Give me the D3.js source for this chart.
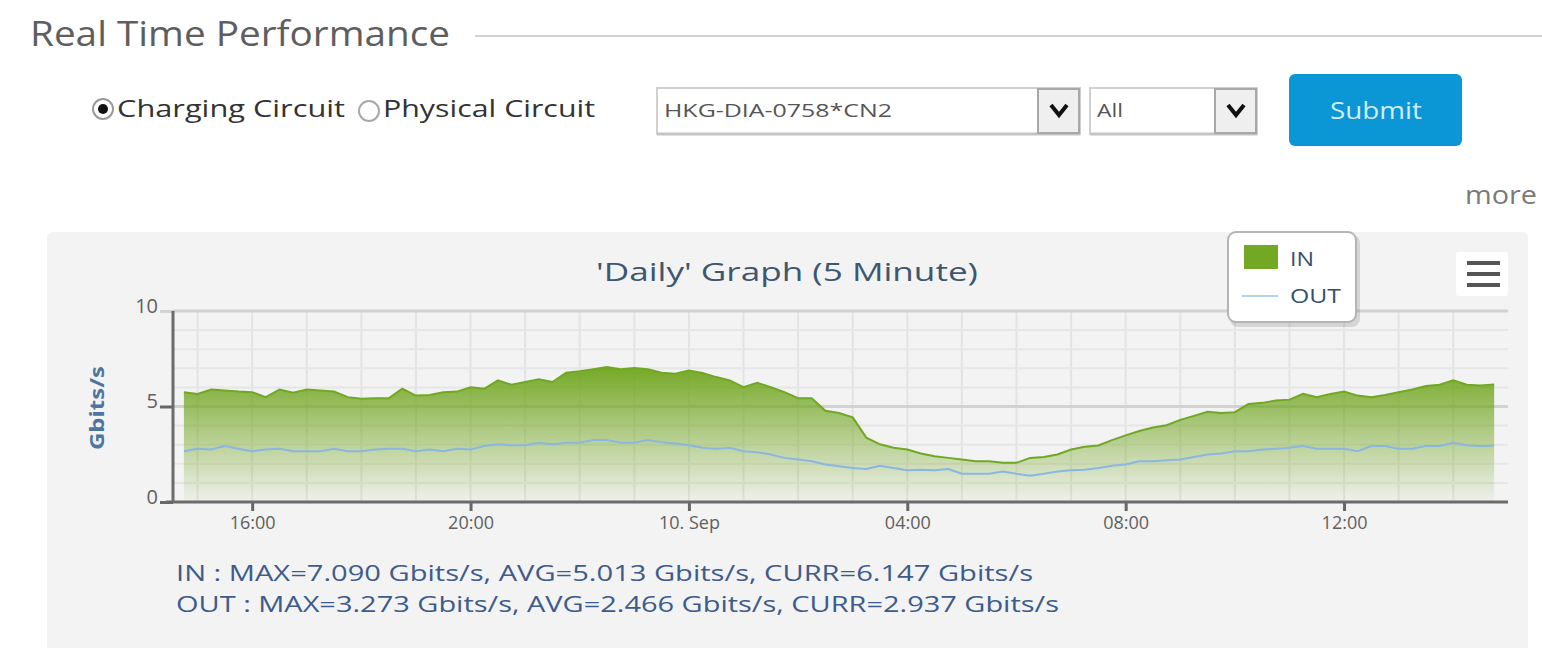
<!DOCTYPE html>
<html>
<head>
<meta charset="utf-8">
<script src="https://cdn.jsdelivr.net/npm/d3@7"></script>
<style>
  body { margin: 0; background: #fff; }
  svg text { font-family: "Liberation Sans Narrow", "Open Sans", "Liberation Sans", sans-serif; }
</style>
</head>
<body>
<div id="chart"></div>
<script>
const WIDTH = 1542;
const HEIGHT = 648;

// 15 minute samples, 9 Sep 14:45 -> 10 Sep 14:45
const times = [
  "14:45","15:00","15:15","15:30","15:45","16:00","16:15","16:30","16:45","17:00","17:15","17:30","17:45",
  "18:00","18:15","18:30","18:45","19:00","19:15","19:30","19:45","20:00","20:15","20:30","20:45",
  "21:00","21:15","21:30","21:45","22:00","22:15","22:30","22:45","23:00","23:15","23:30","23:45",
  "00:00","00:15","00:30","00:45","01:00","01:15","01:30","01:45","02:00","02:15","02:30","02:45",
  "03:00","03:15","03:30","03:45","04:00","04:15","04:30","04:45","05:00","05:15","05:30","05:45",
  "06:00","06:15","06:30","06:45","07:00","07:15","07:30","07:45","08:00","08:15","08:30","08:45",
  "09:00","09:15","09:30","09:45","10:00","10:15","10:30","10:45","11:00","11:15","11:30","11:45",
  "12:00","12:15","12:30","12:45","13:00","13:15","13:30","13:45","14:00","14:15","14:30","14:45"
];

const inValues = [
  5.75,5.66,5.89,5.84,5.78,5.75,5.49,5.89,5.72,5.89,5.84,5.78,5.49,
  5.40,5.43,5.43,5.93,5.57,5.60,5.75,5.78,6.01,5.93,6.37,6.14,
  6.28,6.42,6.28,6.77,6.84,6.95,7.07,6.95,7.02,6.95,6.77,6.72,
  6.89,6.75,6.54,6.37,6.01,6.24,6.01,5.75,5.43,5.43,4.78,4.66,
  4.43,3.37,3.02,2.84,2.75,2.54,2.40,2.31,2.22,2.13,2.13,2.05,
  2.05,2.31,2.36,2.49,2.75,2.89,2.96,3.24,3.49,3.72,3.90,4.02,
  4.30,4.51,4.72,4.66,4.70,5.13,5.19,5.31,5.36,5.66,5.49,5.66,
  5.78,5.57,5.49,5.60,5.75,5.89,6.07,6.14,6.37,6.14,6.10,6.15
];

const outValues = [
  2.66,2.79,2.75,2.93,2.79,2.66,2.75,2.79,2.66,2.66,2.66,2.79,2.66,
  2.66,2.75,2.79,2.79,2.66,2.75,2.66,2.79,2.75,2.93,3.02,2.97,
  2.97,3.10,3.02,3.10,3.10,3.24,3.24,3.10,3.10,3.24,3.13,3.06,
  2.97,2.84,2.79,2.84,2.66,2.61,2.49,2.31,2.22,2.13,1.96,1.87,
  1.78,1.73,1.90,1.78,1.66,1.69,1.66,1.73,1.48,1.48,1.48,1.60,
  1.48,1.38,1.48,1.60,1.66,1.69,1.78,1.90,1.96,2.13,2.13,2.19,
  2.22,2.36,2.49,2.54,2.66,2.66,2.75,2.79,2.84,2.93,2.79,2.79,
  2.79,2.66,2.93,2.93,2.79,2.79,2.93,2.93,3.10,2.97,2.93,2.94
];

const yTicks = [0, 5, 10];
const statLines = [
  "IN : MAX=7.090 Gbits/s, AVG=5.013 Gbits/s, CURR=6.147 Gbits/s",
  "OUT : MAX=3.273 Gbits/s, AVG=2.466 Gbits/s, CURR=2.937 Gbits/s"
];

// turn "HH:MM" into dates, rolling over to next day after midnight
let day = 9, prevH = -1;
const data = times.map((t, i) => {
  const [h, m] = t.split(":").map(Number);
  if (h < prevH) day += 1;
  prevH = h;
  return { date: new Date(2019, 8, day, h, m), in: inValues[i], out: outValues[i] };
});

const svg = d3.select("#chart").append("svg")
  .attr("width", WIDTH)
  .attr("height", HEIGHT);

// ---------- page header ----------
svg.append("text")
  .attr("x", 30).attr("y", 46)
  .attr("font-size", 34).attr("fill", "#5e5e5e")
  .attr("textLength", 420).attr("lengthAdjust", "spacingAndGlyphs")
  .text("Real Time Performance");
svg.append("line")
  .attr("x1", 475).attr("x2", WIDTH).attr("y1", 36).attr("y2", 36)
  .attr("stroke", "#d2d2d2").attr("stroke-width", 2);

// radios
svg.append("circle").attr("cx", 103).attr("cy", 109).attr("r", 10)
  .attr("fill", "#fff").attr("stroke", "#9a9a9a").attr("stroke-width", 2);
svg.append("circle").attr("cx", 103).attr("cy", 109).attr("r", 5).attr("fill", "#111");
svg.append("text").attr("x", 117).attr("y", 117)
  .attr("font-size", 24).attr("fill", "#333")
  .attr("textLength", 228).attr("lengthAdjust", "spacingAndGlyphs")
  .text("Charging Circuit");
svg.append("circle").attr("cx", 369).attr("cy", 111).attr("r", 10)
  .attr("fill", "#fff").attr("stroke", "#a8a8a8").attr("stroke-width", 2);
svg.append("text").attr("x", 383).attr("y", 117)
  .attr("font-size", 24).attr("fill", "#333")
  .attr("textLength", 212).attr("lengthAdjust", "spacingAndGlyphs")
  .text("Physical Circuit");

// selects
function selectBox(x, w, label, tl) {
  svg.append("rect").attr("x", x).attr("y", 88).attr("width", w).attr("height", 46)
    .attr("fill", "#fff").attr("stroke", "#d0d0d0").attr("stroke-width", 2);
  svg.append("line").attr("x1", x).attr("x2", x + w).attr("y1", 134).attr("y2", 134)
    .attr("stroke", "#c4c4c4").attr("stroke-width", 3);
  svg.append("rect").attr("x", x + w - 42).attr("y", 89).attr("width", 41).attr("height", 44)
    .attr("fill", "#efefef").attr("stroke", "#a8a8a8").attr("stroke-width", 2);
  const cx = x + w - 21;
  svg.append("path")
    .attr("d", `M${cx - 8},${105} L${cx},${115} L${cx + 8},${105}`)
    .attr("fill", "none").attr("stroke", "#111").attr("stroke-width", 4);
  const t = svg.append("text").attr("x", x + 7).attr("y", 117)
    .attr("font-size", 19).attr("fill", "#555").text(label);
  if (tl) t.attr("textLength", tl).attr("lengthAdjust", "spacingAndGlyphs");
}
selectBox(657, 423, "HKG-DIA-0758*CN2", 228);
selectBox(1090, 167, "All", 26);

// submit
svg.append("rect").attr("x", 1289).attr("y", 74).attr("width", 173).attr("height", 72)
  .attr("rx", 6).attr("fill", "#0b96d6");
svg.append("text").attr("x", 1376).attr("y", 119)
  .attr("text-anchor", "middle").attr("font-size", 24).attr("fill", "#d3ecf8")
  .attr("textLength", 92).attr("lengthAdjust", "spacingAndGlyphs")
  .text("Submit");

svg.append("text").attr("x", 1537).attr("y", 204)
  .attr("text-anchor", "end").attr("font-size", 25).attr("fill", "#7a7a7a")
  .attr("textLength", 72).attr("lengthAdjust", "spacingAndGlyphs")
  .text("more");

// ---------- chart panel ----------
svg.append("rect").attr("x", 47).attr("y", 232).attr("width", 1481).attr("height", 440)
  .attr("rx", 6).attr("fill", "#f3f3f3");

const x = d3.scaleTime()
  .domain([new Date(2019, 8, 9, 14, 33), new Date(2019, 8, 10, 14, 58)])
  .range([173, 1506]);
const y = d3.scaleLinear().domain([0, 10]).range([502, 311]);

const plot = svg.append("g");

// grid
plot.selectAll(".vgrid")
  .data(x.ticks(d3.timeHour.every(1)))
  .enter().append("line")
  .attr("x1", d => x(d)).attr("x2", d => x(d))
  .attr("y1", y(10)).attr("y2", y(0))
  .attr("stroke", "#e3e3e3").attr("stroke-width", 2);
plot.selectAll(".hgrid")
  .data(y.ticks(10).filter(v => v % 5 !== 0))
  .enter().append("line")
  .attr("x1", 173).attr("x2", 1508)
  .attr("y1", d => y(d)).attr("y2", d => y(d))
  .attr("stroke", "#e6e6e6").attr("stroke-width", 2);
plot.selectAll(".hmajor")
  .data(yTicks.filter(v => v > 0))
  .enter().append("line")
  .attr("x1", 173).attr("x2", 1508)
  .attr("y1", d => y(d)).attr("y2", d => y(d))
  .attr("stroke", "#d2d2d2").attr("stroke-width", 3);

// area gradient
const defs = svg.append("defs");
const grad = defs.append("linearGradient").attr("id", "inGrad")
  .attr("x1", 0).attr("y1", 0).attr("x2", 0).attr("y2", 1);
grad.append("stop").attr("offset", "0%").attr("stop-color", "#6fa51c").attr("stop-opacity", 0.95);
grad.append("stop").attr("offset", "100%").attr("stop-color", "#6fa51c").attr("stop-opacity", 0.03);

const area = d3.area()
  .x(d => x(d.date)).y0(y(0)).y1(d => y(d.in));
plot.append("path").datum(data)
  .attr("d", area).attr("fill", "url(#inGrad)");
plot.append("path").datum(data)
  .attr("d", d3.line().x(d => x(d.date)).y(d => y(d.in)))
  .attr("fill", "none").attr("stroke", "#71a823").attr("stroke-width", 2);
plot.append("path").datum(data)
  .attr("d", d3.line().x(d => x(d.date)).y(d => y(d.out)))
  .attr("fill", "none").attr("stroke", "#8ab6e4").attr("stroke-width", 2);

// axes
const xAxis = d3.axisBottom(x)
  .ticks(d3.timeHour.every(4))
  .tickSize(9)
  .tickFormat(d => d.getHours() === 0 ? d3.timeFormat("%d. %b")(d) : d3.timeFormat("%H:%M")(d));
const gx = svg.append("g").attr("transform", `translate(0,${y(0)})`).call(xAxis);
gx.select(".domain").remove();
gx.selectAll(".tick line").attr("stroke", "#666").attr("stroke-width", 3);
gx.selectAll(".tick text").attr("fill", "#606060").attr("font-size", 18).attr("dy", "0.85em");
svg.append("line").attr("x1", 166).attr("x2", 1508).attr("y1", y(0)).attr("y2", y(0))
  .attr("stroke", "#6b6b6b").attr("stroke-width", 3);

const yAxis = d3.axisLeft(y).tickValues(yTicks).tickSize(13).tickPadding(2);
const gy = svg.append("g").attr("transform", "translate(173,0)").call(yAxis);
gy.select(".domain").remove();
gy.selectAll(".tick line").attr("stroke", d => d === 10 ? "#d2d2d2" : "#666").attr("stroke-width", 3);
gy.selectAll(".tick text").attr("fill", "#606060").attr("font-size", 20).attr("dy", "0.05em");
svg.append("line").attr("x1", 173).attr("x2", 173).attr("y1", y(10)).attr("y2", y(0) + 1)
  .attr("stroke", "#6b6b6b").attr("stroke-width", 3);

svg.append("text")
  .attr("transform", "translate(104,408) rotate(-90)")
  .attr("text-anchor", "middle").attr("font-size", 20).attr("font-weight", "bold")
  .attr("fill", "#4d759e")
  .attr("textLength", 84).attr("lengthAdjust", "spacingAndGlyphs")
  .text("Gbits/s");

// title
svg.append("text").attr("x", 787).attr("y", 281)
  .attr("text-anchor", "middle").attr("font-size", 25).attr("fill", "#3e576f")
  .attr("textLength", 382).attr("lengthAdjust", "spacingAndGlyphs")
  .text("'Daily' Graph (5 Minute)");

// legend
svg.append("rect").attr("x", 1230).attr("y", 235).attr("width", 130).attr("height", 92)
  .attr("rx", 8).attr("fill", "#000").attr("opacity", 0.12);
svg.append("rect").attr("x", 1228).attr("y", 232).attr("width", 128).attr("height", 90)
  .attr("rx", 8).attr("fill", "#fff").attr("stroke", "#b4b4b4").attr("stroke-width", 2);
svg.append("rect").attr("x", 1244).attr("y", 245).attr("width", 34).attr("height", 24)
  .attr("fill", "#73a824");
svg.append("line").attr("x1", 1242).attr("x2", 1278).attr("y1", 296).attr("y2", 296)
  .attr("stroke", "#b3d2f0").attr("stroke-width", 2);
svg.append("text").attr("x", 1290).attr("y", 266)
  .attr("font-size", 20).attr("fill", "#34506e")
  .attr("textLength", 24).attr("lengthAdjust", "spacingAndGlyphs").text("IN");
svg.append("text").attr("x", 1290).attr("y", 303)
  .attr("font-size", 20).attr("fill", "#34506e")
  .attr("textLength", 51).attr("lengthAdjust", "spacingAndGlyphs").text("OUT");

// menu button
svg.append("rect").attr("x", 1456).attr("y", 252).attr("width", 52).attr("height", 44)
  .attr("rx", 3).attr("fill", "#fff");
[263, 274, 285].forEach(yy => {
  svg.append("line").attr("x1", 1467).attr("x2", 1500).attr("y1", yy).attr("y2", yy)
    .attr("stroke", "#555").attr("stroke-width", 4);
});

// stats
svg.selectAll(".stat")
  .data(statLines)
  .enter().append("text")
  .attr("x", 176).attr("y", (d, i) => 581 + i * 31)
  .attr("font-size", 21).attr("fill", "#3d5b8c")
  .attr("textLength", (d, i) => i === 0 ? 857 : 883)
  .attr("lengthAdjust", "spacingAndGlyphs")
  .text(d => d);
</script>
</body>
</html>
